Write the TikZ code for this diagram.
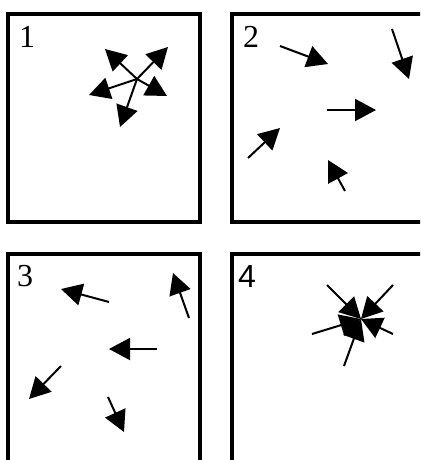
\documentclass[tikz,border=0pt]{standalone}
\usepackage{fontspec}
\setmainfont{Liberation Serif}
\newfontfamily\digitsans{Liberation Sans}
\usetikzlibrary{arrows.meta}

\tikzset{
  panel/.style={line width=4pt},
  vec/.style={->,line width=2pt},
  num/.style={anchor=base west,inner sep=0pt,font=\fontsize{32}{32}\selectfont}
}

\begin{document}
\begin{tikzpicture}[x=1pt,y=-1pt,>={Triangle[length=21pt,width=22pt]}]
\useasboundingbox (0,0) rectangle (420,460);
\clip (0,0) rectangle (420,460);
\begin{scope}[shift={(8,14)}]
\draw[panel] (0,0) rectangle (192,208);
\node[num] (n1) at (11,34) {1};
\coordinate (o1) at (129,65);
\draw[vec] (o1) -- (97,35);
\draw[vec] (o1) -- (160,33);
\draw[vec] (o1) -- (81,81);
\draw[vec] (o1) -- (159,82);
\draw[vec] (o1) -- (112,113);
\end{scope}
\begin{scope}[shift={(232,14)}]
\draw[panel] (0,0) rectangle (192,208);
\node[num] (n2) at (11,34) {2};
\draw[vec] (48,32) -- (96,50);
\draw[vec] (160,15) -- (177,65);
\draw[vec] (95,96) -- (144,96);
\draw[vec] (16,144) -- (48,114);
\draw[vec] (113,177) -- (96,146);
\end{scope}
\begin{scope}[shift={(8,254)}]
\draw[panel] (0,0) rectangle (192,208);
\node[num] (n3) at (9,32) {3};
\draw[vec] (101,48) -- (53,35);
\draw[vec] (181,64) -- (165,19);
\draw[vec] (149,95) -- (101,95);
\draw[vec] (53,112) -- (21,145);
\draw[vec] (100,143) -- (116,178);
\end{scope}
\begin{scope}[shift={(232,254)}]
\draw[panel] (0,0) rectangle (192,208);
\node[num,font=\digitsans\fontsize{32}{32}\selectfont] (n4) at (6,33) {4};
\coordinate (o4) at (129,65);
\draw[vec] (95,31) -- (o4);
\draw[vec] (161,31) -- (o4);
\draw[vec] (80,80) -- (o4);
\draw[vec] (161,80) -- (o4);
\draw[vec] (112,112) -- (o4);
\end{scope}
\end{tikzpicture}
\end{document}
